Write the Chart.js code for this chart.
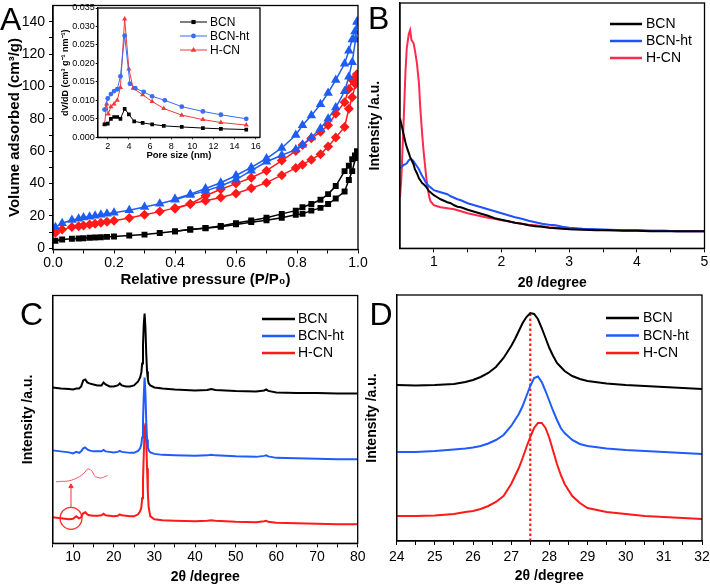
<!DOCTYPE html>
<html><head><meta charset="utf-8">
<script src="https://cdn.jsdelivr.net/npm/chart.js@4"></script>
<style>
html,body{margin:0;padding:0;background:#fff;width:710px;height:587px;overflow:hidden}
canvas{position:absolute;left:0;top:0}
</style></head><body>
<canvas id="cA" width="710" height="587"></canvas>
<canvas id="cIn" width="710" height="587"></canvas>
<canvas id="cB" width="710" height="587"></canvas>
<canvas id="cC" width="710" height="587"></canvas>
<canvas id="cD" width="710" height="587"></canvas>
<script>
// ---------------- DATA ----------------
const seriesNames = ['BCN', 'BCN-ht', 'H-CN'];

// Panel A: N2 isotherms
const pAds = [0.008,0.03,0.062,0.084,0.1,0.12,0.138,0.157,0.177,0.2,0.25,0.3,0.35,0.4,0.45,0.5,0.55,0.6,0.65,0.7,0.75,0.796,0.818,0.847,0.877,0.902,0.927,0.956,0.97,0.981,0.992,0.997];
const pDes = [0.997,0.99,0.981,0.97,0.956,0.927,0.902,0.877,0.847,0.818,0.796,0.75,0.7,0.65,0.6,0.55,0.5,0.45,0.4];
const bcnAds = [4.7,5.5,5.9,6.1,6.3,6.5,6.7,6.9,7.1,7.3,7.9,8.5,9.5,10.5,11.6,12.4,13.4,14.8,16.2,17.4,18.9,20.7,21.3,23.3,25,27.4,30.8,35.1,42.2,47.7,55.8,59.8];
const bcnDes = [59.8,57.4,55,51,47.7,38.5,33.5,30,27.4,25.4,23.3,21.3,18.9,17.2,15.6,13.8,12.6,11.6,10.5];
const htAds = [13,15.5,17.5,18.3,19,19.6,20.2,20.8,21.4,22,23.5,25.5,27.5,30,33,35.5,38.5,42.5,48,53.5,57.5,61,64,68.5,74,80,87,97,106,115,129,140];
const htDes = [140,134,129,122,114,104,96,89,82,76,70,62,55.5,50,45,40.5,37,33.5,30.5];
const hcnAds = [9.7,11.6,13.2,13.6,14.2,14.8,15.2,15.8,16.4,17,18.7,20.7,22.7,25,27.4,29.4,31.4,33.9,37.1,40.6,45.2,49.7,51.7,54.8,58.2,62.9,68.4,75,86.2,93.3,101.4,107.5];
const hcnDes = [107.5,104.5,104,98.4,90.3,83.2,76,72,68,63.9,60.2,54.2,48,43.6,40,36.5,32.5,27.4,24.5];
const aXTicks = [0,0.2,0.4,0.6,0.8,1.0];
const aXLabels = ['0.0','0.2','0.4','0.6','0.8','1.0'];
const aXMinor = [0.1,0.3,0.5,0.7,0.9];
const aYTicks = [0,20,40,60,80,100,120,140];
const aYLabels = ['0','20','40','60','80','100','120','140'];
const aYMinor = [10,30,50,70,90,110,130];

// Inset: pore size distribution
const inBcnX = [1.7,2.0,2.3,2.6,2.9,3.2,3.6,4.0,4.5,5.3,6.2,7.3,9.0,11.0,12.7,15.1];
const inBcnY = [0.0035,0.0037,0.0050,0.0055,0.0055,0.0050,0.0077,0.0062,0.0043,0.0039,0.0035,0.0031,0.0028,0.0025,0.0023,0.0021];
const inHtX = [1.7,2.0,2.3,2.6,2.9,3.2,3.6,4.1,4.6,5.4,6.2,7.4,9.0,11.0,12.7,15.1];
const inHtY = [0.0075,0.0105,0.0117,0.0125,0.0130,0.0165,0.0275,0.0145,0.0133,0.0123,0.0111,0.0100,0.0083,0.0070,0.0061,0.0050];
const inHcnX = [1.7,1.9,2.05,2.3,2.6,2.9,3.2,3.6,4.0,4.4,5.3,6.2,7.3,9.0,11.0,12.7,15.1];
const inHcnY = [0.0035,0.0090,0.0063,0.0083,0.0090,0.0100,0.0135,0.0320,0.0185,0.0133,0.0115,0.0097,0.0078,0.0060,0.0048,0.0040,0.0033];
const inXTicks = [2,4,6,8,10,12,14,16];
const inXLabels = ['2','4','6','8','10','12','14','16'];
const inYTicks = [0,0.005,0.01,0.015,0.02,0.025,0.03,0.035];
const inYLabels = ['0.000','0.005','0.010','0.015','0.020','0.025','0.030','0.035'];

// Panel B: small-angle XRD
const bX = [0.5,0.52,0.55,0.58,0.6,0.63,0.65,0.67,0.7,0.72,0.75,0.78,0.8,0.83,0.85,0.88,0.9,0.93,0.95,1.0,1.05,1.1,1.15,1.2,1.25,1.3,1.35,1.4,1.5,1.6,1.7,1.8,1.9,2.0,2.1,2.2,2.3,2.4,2.5,2.6,2.7,2.8,2.9,3.0,3.2,3.4,3.6,3.8,4.0,4.2,4.4,4.6,4.8,5.0];
const bBcn = [130,124,115,106,101,95,91,88,84,79,75,70,68,65,64,62,60,57,56,53,51,49,47.5,46,45,43,41.5,41,38.5,36.5,34.5,32.5,30,28.5,27,25.5,24.5,23,22,21.5,20.5,20,19.5,19,18.5,18,18,17.5,17.5,17,17,17,17,17];
const bHt = [80,81,83,84,85,88,89,89,87,85,82,79,76,72,70,66,64,62,61,58,57,56,55,54,52,50.5,49,48,45,43,41,39,37,35,33,31,29.5,27.5,26,24.5,23.5,23,21.5,20.5,19.5,19,18.5,18,18,17.5,17.5,17,17,17];
const bHcn = [51,70,120,175,200,214,218,208,205,198,185,165,140,112,96,76,64,52,47,43,42,41,40.5,40,39.5,39,38,37,35,33.5,32,30.5,29.5,28,27,25.5,24.5,23.5,23,22,21,20.5,20,19.5,19,18.5,18,18,18,17.5,17.5,17,17,17];
const bXTicks = [1,2,3,4,5];
const bXLabels = ['1','2','3','4','5'];
const bXMinor = [1.5,2.5,3.5,4.5];

// Panel C: wide-angle XRD
const cX = [5,7,9,10,10.8,11.5,12,12.5,13,13.5,14,15,16,17,17.5,18,19,20,21,21.5,22,23,24,25,26,26.5,26.8,27.0,27.2,27.4,27.6,27.8,28.0,28.2,28.4,28.6,29,30,32,35,40,43,44,45,50,55,57,57.5,58,60,65,70,75,80];
const cBcn = [156,155,154.5,154,155,155,157,163,164,161,160,159,158,158,161,159,157,157,158,160,158,157,157,158,162,166,171,180,198,220,230,216,190,172,164,160,158,156,155,154,153,153.5,154.5,153.5,152.5,152,153,154,152.5,151,150.5,150.5,150,150];
const cHt = [93,92,91,90,91.5,90.5,92,95,96,94,93,92,92,92,93.5,92,91.5,91,91.5,92.5,91.5,91,90.5,90.5,92.5,95,99,106,122,148,166,150,122,104,96,93,91,89.5,88.5,88,87.5,88,88.5,88,87,86.5,87.5,88,87,85.5,85,84.5,84,84];
const cHcn = [26,25,24,24.5,27,25,26,30,31,29,28,27.5,27.5,28,29.5,28,27.5,27,27.5,29,28,27.5,27,27,29,32,36,45,62,90,114,120,104,75,50,36,27,24,23,22.5,22,22.5,23,22.5,21.5,21,22,22.5,21.5,20.5,20,19.5,19,19];
const cZoomX = [5.8,7,8,9,9.5,10.5,11.5,12,12.5,13,13.3,13.7,14.2,14.8,15.2,15.5,16,16.8,17.5,18.5];
const cZoomY = [61.5,62,62,62.5,63,64.5,66.5,68,69.5,71.5,73.5,74.5,74,71.5,68,66.5,66,65.3,66,68];
const cCircle = [{x:9.5, y:25}];
const cArrow = [{x:9.5, y:35.5},{x:9.5, y:57}];
const cXTicks = [10,20,30,40,50,60,70,80];
const cXLabels = ['10','20','30','40','50','60','70','80'];
const cXMinor = [5,15,25,35,45,55,65,75];

// Panel D: (002) peak detail
const dX = [24,24.5,25,25.5,25.8,26,26.2,26.4,26.6,26.8,27,27.1,27.2,27.3,27.4,27.5,27.6,27.7,27.8,27.9,28,28.1,28.2,28.3,28.4,28.6,28.8,29,29.5,30,30.5,31,31.5,32];
const dBcn = [156,155.5,156,157,159,161,164,168,174,183,195,202,210,218,224,228,227,222,213,203,193,185,178,174,170,165,162,160,157.5,156,155,154,153,152];
const dHt = [89,89,90,91.5,92.5,93.5,95,97.5,101,106,115,121,127,135,145,155,163,164.5,159,150,140,130,121,113,108,101,97,95,92.5,91,90,89,88,87];
const dHcn = [25,25,25.5,27,29,30,32,35,39,45,57,65,73,83,94,104,113,118,118,113,103,90,77,66,57,45,38,33,29,27,25,24,23,22];
const dRefLine = [{x:27.5, y:0},{x:27.5, y:228}];
const dXTicks = [24,25,26,27,28,29,30,31,32];
const dXLabels = ['24','25','26','27','28','29','30','31','32'];
const dXMinor = [24.5,25.5,26.5,27.5,28.5,29.5,30.5,31.5];

// ---------------- HELPERS ----------------
const FONT = "'Liberation Sans', Arial, sans-serif";
Chart.defaults.font.family = FONT;
Chart.defaults.color = '#000';
const BLACK = '#000000', BLUE = '#1f5cff', RED = '#ff1a1a';

const zip = (xs, ys) => xs.map((x, i) => ({x, y: ys[i]}));
function fixAxis(size) {
  return s => {
    if (s.isHorizontal()) s.height = size; else s.width = size;
    s.paddingLeft = s.paddingRight = s.paddingTop = s.paddingBottom = 0;
  };
}
function tickSetter(major, minor) {
  return s => { s.ticks = major.concat(minor || []).sort((a, b) => a - b).map(v => ({value: v})); };
}
function labeler(major, labels) {
  return v => { const i = major.findIndex(m => Math.abs(m - v) < 1e-9); return i < 0 ? '' : labels[i]; };
}
function xAxis(o) {
  return {
    type: 'linear', position: 'bottom', min: o.min, max: o.max,
    afterFit: fixAxis(o.size), afterBuildTicks: tickSetter(o.major, o.minor),
    ticks: {callback: labeler(o.major, o.labels), font: {size: o.fs}, padding: o.tp, maxRotation: 0, autoSkip: false, color: '#000'},
    grid: {drawOnChartArea: false, tickLength: o.tl, tickColor: '#000', tickWidth: 1},
    border: {display: true, color: '#000', width: 1.3},
    title: {display: true, text: o.title, font: {size: o.tfs, weight: 'bold'}, padding: {top: 0, bottom: o.tpb}, color: '#000'}
  };
}
function yAxis(o) {
  const ax = {
    type: 'linear', position: 'left', min: o.min, max: o.max,
    afterFit: fixAxis(o.size),
    border: {display: true, color: '#000', width: 1.3},
    title: {display: true, text: o.title, font: {size: o.tfs, weight: 'bold'}, padding: {top: o.tpt, bottom: 0}, color: '#000'}
  };
  if (o.major) {
    ax.afterBuildTicks = tickSetter(o.major, o.minor);
    ax.ticks = {callback: labeler(o.major, o.labels), font: {size: o.fs}, padding: o.tp, autoSkip: false, color: '#000'};
    ax.grid = {drawOnChartArea: false, tickLength: o.tl, tickColor: '#000', tickWidth: 1};
  } else {
    ax.ticks = {display: false};
    ax.grid = {display: false};
  }
  return ax;
}
function markerPath(ctx, style, x, y, r) {
  ctx.beginPath();
  if (style === 'rect') ctx.rect(x - r * 0.8, y - r * 0.8, r * 1.6, r * 1.6);
  else if (style === 'triangle') { ctx.moveTo(x, y - r); ctx.lineTo(x + r * 0.95, y + r * 0.6); ctx.lineTo(x - r * 0.95, y + r * 0.6); ctx.closePath(); }
  else if (style === 'rectRot') { ctx.moveTo(x, y - r); ctx.lineTo(x + r, y); ctx.lineTo(x, y + r); ctx.lineTo(x - r, y); ctx.closePath(); }
  else ctx.arc(x, y, r, 0, Math.PI * 2);
}
const framePlugin = {
  id: 'frame',
  afterDraw(chart) {
    const a = chart.chartArea, ctx = chart.ctx;
    ctx.save(); ctx.strokeStyle = '#000'; ctx.lineWidth = 1.3;
    ctx.strokeRect(a.left, a.top, a.right - a.left, a.bottom - a.top);
    ctx.restore();
  }
};
const panelPlugin = {
  id: 'panel',
  afterDraw(chart, args, opts) {
    const ctx = chart.ctx;
    ctx.save();
    if (opts.letter) {
      ctx.fillStyle = '#000'; ctx.font = '32px ' + FONT; ctx.textAlign = 'left'; ctx.textBaseline = 'alphabetic';
      ctx.fillText(opts.letter, opts.lx, opts.ly);
    }
    if (opts.legend) {
      const L = opts.legend;
      L.items.forEach((di, i) => {
        const ds = chart.data.datasets[di];
        const y = L.y + i * L.dy;
        ctx.strokeStyle = ds.borderColor; ctx.lineWidth = L.lw;
        ctx.beginPath(); ctx.moveTo(L.x, y); ctx.lineTo(L.x + L.len, y); ctx.stroke();
        if (L.marker) {
          ctx.fillStyle = ds.backgroundColor;
          markerPath(ctx, ds.pointStyle, L.x + L.len / 2, y, ds.pointRadius);
          ctx.fill();
        }
        ctx.fillStyle = '#000'; ctx.font = L.fs + 'px ' + FONT; ctx.textAlign = 'left'; ctx.textBaseline = 'middle';
        ctx.fillText(ds.label, L.x + L.len + L.gap, y + 0.5);
      });
    }
    ctx.restore();
  }
};
function lineDs(label, data, color, width, extra) {
  return Object.assign({label, data, borderColor: color, backgroundColor: color, borderWidth: width,
    showLine: true, pointRadius: 0, tension: 0, fill: false}, extra || {});
}
function makeChart(id, datasets, scales, padding, panel) {
  return new Chart(document.getElementById(id), {
    type: 'scatter',
    data: {datasets},
    options: {
      responsive: false, animation: false, events: [],
      layout: {padding},
      scales,
      plugins: {legend: {display: false}, tooltip: {enabled: false}, panel}
    },
    plugins: [framePlugin, panelPlugin]
  });
}

// ---------------- PANEL A ----------------
const mk = (style, r) => ({pointStyle: style, pointRadius: r, pointBorderWidth: 0});
makeChart('cA', [
  lineDs(seriesNames[0] + ' ads', zip(pAds, bcnAds), BLACK, 1.5, mk('rect', 4.2)),
  lineDs(seriesNames[0] + ' des', zip(pDes, bcnDes), BLACK, 1.5, mk('rect', 4.2)),
  lineDs(seriesNames[1] + ' ads', zip(pAds, htAds), '#1e5cf2', 1.5, mk('triangle', 5.5)),
  lineDs(seriesNames[1] + ' des', zip(pDes, htDes), '#1e5cf2', 1.5, mk('triangle', 5.5)),
  lineDs(seriesNames[2] + ' ads', zip(pAds, hcnAds), RED, 1.5, mk('rectRot', 5)),
  lineDs(seriesNames[2] + ' des', zip(pDes, hcnDes), RED, 1.5, mk('rectRot', 5))
], {
  x: xAxis({min: 0, max: 1, size: 40, major: aXTicks, minor: aXMinor, labels: aXLabels, fs: 14, tp: 1, tl: 4,
    title: 'Relative pressure (P/P\u2080)', tfs: 15, tpb: 1}),
  y: yAxis({min: -0.7, max: 150, size: 53, major: aYTicks, minor: aYMinor, labels: aYLabels, fs: 14, tp: 4, tl: 4,
    title: 'Volume adsorbed (cm\u00b3/g)', tfs: 15, tpt: 6})
}, {left: 0, top: 3, right: 352, bottom: 297.5}, {letter: 'A', lx: 0, ly: 30});

// ---------------- INSET ----------------
makeChart('cIn', [
  lineDs(seriesNames[0], zip(inBcnX, inBcnY), BLACK, 1, mk('rect', 2.6)),
  lineDs(seriesNames[1], zip(inHtX, inHtY), '#3a6cf0', 1, mk('circle', 2.4)),
  lineDs(seriesNames[2], zip(inHcnX, inHcnY), '#f03a3a', 1, mk('triangle', 3))
], {
  x: xAxis({min: 1.05, max: 16.4, size: 24, major: inXTicks, minor: [], labels: inXLabels, fs: 9, tp: 2, tl: 2,
    title: 'Pore size (nm)', tfs: 9.5, tpb: 0}),
  y: yAxis({min: 0, max: 0.035, size: 37.7, major: inYTicks, minor: [], labels: inYLabels, fs: 9, tp: 1, tl: 2,
    title: 'dV/dD (cm\u00b3 g\u207b\u00b9 nm\u207b\u00b9)', tfs: 9, tpt: 0})
}, {left: 60, top: 8, right: 450, bottom: 425.7},
{legend: {items: [0, 1, 2], x: 180, y: 22, dy: 14, len: 27, gap: 3, lw: 1, fs: 12, marker: true}});

// ---------------- PANEL B ----------------
makeChart('cB', [
  lineDs(seriesNames[0], zip(bX, bBcn), BLACK, 2),
  lineDs(seriesNames[1], zip(bX, bHt), '#2050ff', 2),
  lineDs(seriesNames[2], zip(bX, bHcn), '#ff2a4e', 2)
], {
  x: xAxis({min: 0.5, max: 5, size: 45, major: bXTicks, minor: bXMinor, labels: bXLabels, fs: 14, tp: 1.6, tl: 4,
    title: '2\u03b8 /degree', tfs: 14, tpb: 1.9}),
  y: yAxis({min: 0, max: 245, size: 38, title: 'Intensity /a.u.', tfs: 14, tpt: 4.6})
}, {left: 362, top: 3, right: 5.5, bottom: 293.7},
{letter: 'B', lx: 368, ly: 28.5, legend: {items: [0, 1, 2], x: 610, y: 24, dy: 17, len: 32, gap: 4, lw: 2.5, fs: 14}});

// ---------------- PANEL C ----------------
makeChart('cC', [
  lineDs(seriesNames[0], zip(cX, cBcn), BLACK, 2),
  lineDs(seriesNames[1], zip(cX, cHt), BLUE, 2),
  lineDs(seriesNames[2], zip(cX, cHcn), RED, 2),
  lineDs('zoom', zip(cZoomX, cZoomY), '#ff5a6a', 1),
  {label: 'circle', data: cCircle, pointRadius: 11, pointStyle: 'circle', borderColor: '#ff3030', backgroundColor: 'rgba(0,0,0,0)', pointBorderWidth: 1.2, showLine: false},
  lineDs('arrow', cArrow, '#ff3030', 1, {pointStyle: 'triangle', pointRadius: [0, 2.5], pointBorderWidth: 1})
], {
  x: xAxis({min: 5, max: 80, size: 43.7, major: cXTicks, minor: cXMinor, labels: cXLabels, fs: 14, tp: 1.3, tl: 4,
    title: '2\u03b8 /degree', tfs: 14, tpb: 1.6}),
  y: yAxis({min: 0, max: 248, size: 52.7, title: 'Intensity /a.u.', tfs: 14, tpt: 19.6})
}, {left: 0, top: 295.5, right: 352.3, bottom: 0},
{letter: 'C', lx: 20, ly: 325, legend: {items: [0, 1, 2], x: 262, y: 319, dy: 17, len: 33, gap: 3, lw: 2.5, fs: 14}});

// ---------------- PANEL D ----------------
makeChart('cD', [
  lineDs(seriesNames[0], zip(dX, dBcn), BLACK, 2),
  lineDs(seriesNames[1], zip(dX, dHt), BLUE, 2),
  lineDs(seriesNames[2], zip(dX, dHcn), RED, 2),
  lineDs('ref', dRefLine, RED, 2.2, {borderDash: [2.5, 2.5]})
], {
  x: xAxis({min: 24, max: 32, size: 46, major: dXTicks, minor: dXMinor, labels: dXLabels, fs: 14, tp: 3.3, tl: 4,
    title: '2\u03b8 /degree', tfs: 14, tpb: 2.6}),
  y: yAxis({min: 0, max: 246, size: 34.7, title: 'Intensity /a.u.', tfs: 14, tpt: 1.3})
}, {left: 362, top: 295, right: 8, bottom: 0},
{letter: 'D', lx: 369.5, ly: 325, legend: {items: [0, 1, 2], x: 606, y: 318, dy: 17.5, len: 33, gap: 4, lw: 2.5, fs: 14}});
</script>
</body></html>
